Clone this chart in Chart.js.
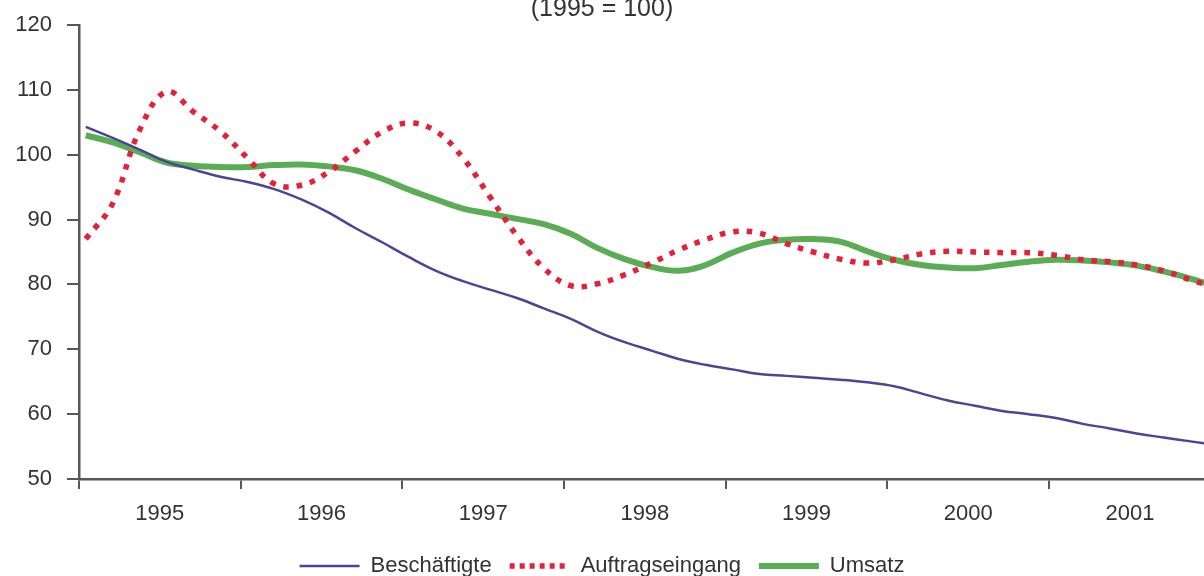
<!DOCTYPE html>
<html lang="de">
<head>
  <meta charset="UTF-8">
  <title>Beschäftigte, Auftragseingang, Umsatz (1995 = 100)</title>
  <script src="https://cdn.jsdelivr.net/npm/chart.js"></script>
  <style>
    html, body { margin: 0; padding: 0; overflow: hidden; background: #fff; }
    .chart-container {
      position: absolute;
      top: -20px;
      left: 0;
      width: 1204px;
      height: 607px;
    }
  </style>
</head>
<body>
  <div class="chart-container">
    <canvas id="indexChart"></canvas>
  </div>

  <script>
    // Daten: Monatsnummer ab Januar 1995 (jeder zweite Monat), Index 1995 = 100
    const monate = [1, 3, 5, 7, 9, 11, 13, 15, 17, 19, 21, 23, 25, 27, 29, 31, 33, 35, 37, 39, 41, 43,
                    45, 47, 49, 51, 53, 55, 57, 59, 61, 63, 65, 67, 69, 71, 73, 75, 77, 79, 81, 83, 85];
    const jahre = ['1995', '1996', '1997', '1998', '1999', '2000', '2001'];

    const beschaeftigte = [104.3, 102.6, 100.8, 98.9, 97.7, 96.6, 95.8, 94.7, 93.1, 91.1, 88.7, 86.5,
                           84.2, 82.1, 80.5, 79.2, 77.9, 76.3, 74.7, 72.7, 71.1, 69.8, 68.5, 67.6,
                           66.9, 66.2, 65.9, 65.6, 65.3, 64.9, 64.3, 63.2, 62.1, 61.3, 60.5, 60.0,
                           59.4, 58.5, 57.8, 57.0, 56.4, 55.8, 55.2];
    const auftragseingang = [87.0, 92.5, 103.8, 109.7, 106.6, 103.6, 99.5, 95.5, 95.3, 97.3, 100.5, 103.5,
                             104.9, 103.6, 99.5, 93.5, 87.5, 82.5, 79.8, 80.1, 81.5, 83.3, 85.3, 86.9,
                             88.1, 87.9, 86.3, 85.0, 83.9, 83.3, 83.8, 84.7, 85.1, 85.0, 84.9, 84.9,
                             84.5, 83.8, 83.5, 83.0, 82.1, 80.7, 79.5];
    const umsatz = [103.0, 101.9, 100.4, 98.8, 98.3, 98.1, 98.1, 98.4, 98.5, 98.2, 97.6, 96.3,
                    94.6, 93.1, 91.7, 90.9, 90.1, 89.3, 87.8, 85.6, 83.9, 82.7, 82.1, 83.0,
                    84.9, 86.3, 86.9, 87.0, 86.6, 85.1, 83.8, 83.0, 82.6, 82.5, 83.0, 83.5,
                    83.8, 83.7, 83.4, 82.9, 82.0, 80.9, 79.6];
    const yTicks = [50, 60, 70, 80, 90, 100, 110, 120];

    // Monatsmitte als x-Position (Monate seit Jahresbeginn 1995)
    function punkte(werte) {
      return werte.map((v, i) => ({ x: monate[i] - 0.5, y: v }));
    }

    // Jahresgrenzen (Striche) und Jahresmitten (Beschriftung)
    const xTicks = [];
    jahre.forEach((j, i) => { xTicks.push(i * 12); xTicks.push(i * 12 + 6); });

    const achsenFarbe = '#585858';
    const schrift = { family: 'Liberation Sans, Arial, sans-serif', size: 22 };

    const ctx = document.getElementById('indexChart').getContext('2d');
    new Chart(ctx, {
      type: 'line',
      data: {
        datasets: [
          {
            label: 'Beschäftigte',
            data: punkte(beschaeftigte),
            borderColor: '#4b4596',
            borderWidth: 2.5,
            pointRadius: 0,
            tension: 0.4
          },
          {
            label: 'Auftragseingang',
            data: punkte(auftragseingang),
            borderColor: '#e3213a',
            borderWidth: 5.5,
            borderDash: [5.5, 8],
            borderCapStyle: 'butt',
            pointRadius: 0,
            tension: 0.4
          },
          {
            label: 'Umsatz',
            data: punkte(umsatz),
            borderColor: '#5bad55',
            borderWidth: 6,
            pointRadius: 0,
            tension: 0.4
          }
        ]
      },
      options: {
        responsive: true,
        maintainAspectRatio: false,
        animation: false,
        layout: { padding: 0 },
        plugins: {
          title: {
            display: true,
            text: '(1995 = 100)',
            color: '#333',
            font: { family: 'Liberation Sans, Arial, sans-serif', size: 25, weight: 'normal' },
            padding: { top: 14, bottom: 1 }
          },
          legend: {
            position: 'bottom',
            labels: {
              usePointStyle: true,
              pointStyle: 'line',
              pointStyleWidth: 60,
              boxHeight: 22,
              padding: 18,
              color: '#333',
              font: schrift,
              // Linienmuster der Datenreihe auch im Legendensymbol
              generateLabels: (chart) => {
                const items = Chart.defaults.plugins.legend.labels.generateLabels(chart);
                items.forEach((item) => {
                  const ds = chart.data.datasets[item.datasetIndex];
                  item.lineDash = ds.borderDash ? [5, 5] : [];
                  item.lineWidth = ds.borderWidth;
                  item.strokeStyle = ds.borderColor;
                  item.lineCap = 'butt';
                });
                return items;
              }
            }
          },
          tooltip: { enabled: false }
        },
        scales: {
          x: {
            type: 'linear',
            min: 0,
            max: 83.5,
            afterBuildTicks: (axis) => { axis.ticks = xTicks.map(v => ({ value: v })); },
            afterFit: (axis) => { axis.height = 58; },
            border: { color: achsenFarbe, width: 2.5 },
            grid: {
              drawOnChartArea: false,
              tickLength: 10,
              lineWidth: 2,
              color: (c) => (c.tick && c.tick.value % 12 === 0) ? achsenFarbe : 'rgba(0,0,0,0)'
            },
            ticks: {
              autoSkip: false,
              maxRotation: 0,
              padding: 12,
              color: '#333',
              font: schrift,
              callback: (v) => (v % 12 === 6) ? jahre[(v - 6) / 12] : ''
            }
          },
          y: {
            min: 50,
            max: 120,
            afterBuildTicks: (axis) => { axis.ticks = yTicks.map(v => ({ value: v })); },
            afterFit: (axis) => { axis.width = 79; },
            border: { color: achsenFarbe, width: 2.5 },
            grid: {
              drawOnChartArea: false,
              tickLength: 12,
              lineWidth: 2,
              color: achsenFarbe
            },
            ticks: {
              padding: 15,
              color: '#333',
              font: schrift
            }
          }
        }
      }
    });
  </script>
</body>
</html>
